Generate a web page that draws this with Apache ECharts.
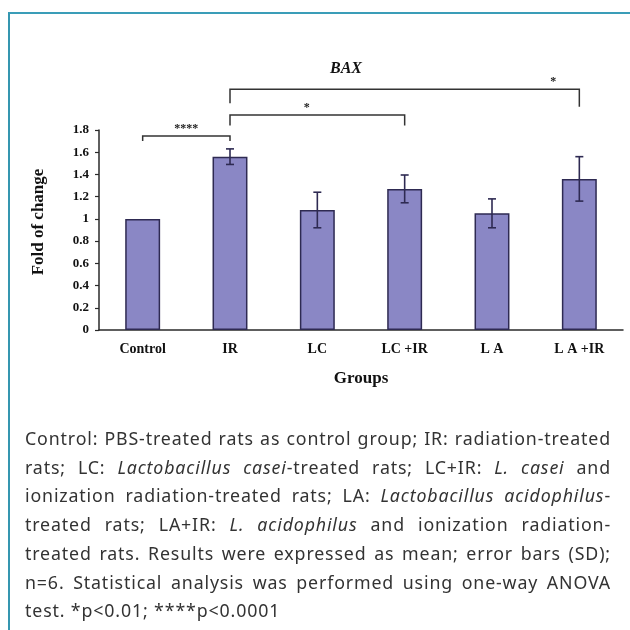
<!DOCTYPE html>
<html lang="en">
<head>
<meta charset="UTF-8">
<title>BAX</title>
<script src="https://cdn.jsdelivr.net/npm/echarts@6/dist/echarts.min.js"></script>
<style>
html, body { margin: 0; padding: 0; background: #fff; }
#wrap { position: relative; width: 630px; height: 630px; overflow: hidden; }
#frame {
    position: absolute; left: 8px; top: 12px; width: 700px; height: 700px;
    border-left: 2px solid #3596b0; border-top: 2px solid #3a9db8;
}
#chart { position: absolute; left: 0; top: 0; width: 630px; height: 630px; }
#caption {
    position: absolute; left: 25px; top: 424px; width: 586px;
    font-family: "Noto Sans", sans-serif; font-size: 17.8px; line-height: 28.7px;
    letter-spacing: 0.85px; color: #333; white-space: nowrap;
}
#caption div { text-align: justify; text-align-last: justify; }
#caption div.last { text-align-last: left; }
</style>
</head>
<body>
<div id="wrap">
    <div id="frame"></div>
    <div id="chart"></div>
    <div id="caption">
        <div>Control: PBS-treated rats as control group; IR: radiation-treated</div>
        <div>rats; LC: <i>Lactobacillus casei</i>-treated rats; LC+IR: <i>L. casei</i> and</div>
        <div>ionization radiation-treated rats; LA: <i>Lactobacillus acidophilus</i>-</div>
        <div>treated rats; LA+IR: <i>L. acidophilus</i> and ionization radiation-</div>
        <div>treated rats. Results were expressed as mean; error bars (SD);</div>
        <div>n=6. Statistical analysis was performed using one-way ANOVA</div>
        <div class="last">test. *p&lt;0.01; ****p&lt;0.0001</div>
    </div>
</div>
<script>
var groups = ['Control', 'IR', 'LC', 'LC +IR', 'L A', 'L A +IR'];
var means = [1.00, 1.56, 1.08, 1.27, 1.05, 1.36];
var sds = [0, 0.07, 0.16, 0.125, 0.13, 0.20];

// significance brackets: from, to, line level, left end, right end
var brackets = [
    [0, 1, 1.745, 1.70, 1.70],
    [1, 3, 1.935, 1.84, 1.84],
    [1, 5, 2.167, 2.04, 2.01]
];
var bracketLabels = ['****', '*', '*'];
var labelPos = [0.5, 0.44, 0.925];

var serif = '"Liberation Serif", "Times New Roman", serif';
var ink = '#2a2a2a';
var barEdge = '#2e2a52';

var chart = echarts.init(document.getElementById('chart'));

var option = {
    animation: false,
    title: {
        text: 'BAX',
        left: 341,
        top: 56,
        textAlign: 'center',
        textStyle: { fontFamily: serif, fontStyle: 'italic', fontWeight: 'bold', fontSize: 16, color: '#111' }
    },
    grid: { left: 99, right: 7, top: 130, bottom: 300 },
    xAxis: {
        type: 'category',
        data: groups,
        name: 'Groups',
        nameLocation: 'middle',
        nameGap: 40,
        nameTextStyle: { fontFamily: serif, fontWeight: 'bold', fontSize: 17, color: '#111' },
        axisLine: { lineStyle: { color: ink, width: 1.5 } },
        axisTick: { length: 5, lineStyle: { color: ink, width: 1.2 } },
        axisLabel: { fontFamily: serif, fontWeight: 'bold', fontSize: 14, color: '#111', margin: 12 }
    },
    yAxis: {
        type: 'value',
        min: 0,
        max: 1.8,
        interval: 0.2,
        name: 'Fold of change',
        nameLocation: 'middle',
        nameGap: 52,
        nameTextStyle: { fontFamily: serif, fontWeight: 'bold', fontSize: 17, color: '#111', padding: [0, 0, 0, 16] },
        splitLine: { show: false },
        axisLine: { show: true, lineStyle: { color: ink, width: 1.5 } },
        axisTick: { show: true, length: 4, lineStyle: { color: ink, width: 1.2 } },
        axisLabel: { fontFamily: serif, fontWeight: 'bold', fontSize: 13, color: '#111', margin: 10 }
    },
    series: [
        {
            type: 'bar',
            data: means,
            barWidth: '40%',
            itemStyle: { color: '#8a87c5', borderColor: barEdge, borderWidth: 1.5 }
        },
        {
            type: 'custom',
            clip: false,
            z: 5,
            data: means.map(function (m, i) { return [i, m, sds[i]]; }),
            encode: { x: 0, y: 1 },
            renderItem: function (params, api) {
                var i = api.value(0), m = api.value(1), s = api.value(2);
                if (!s) return null;
                var hi = api.coord([i, m + s]);
                var lo = api.coord([i, m - s]);
                var w = 4;
                var st = { stroke: barEdge, lineWidth: 1.6 };
                return {
                    type: 'group',
                    children: [
                        { type: 'line', shape: { x1: hi[0], y1: hi[1], x2: lo[0], y2: lo[1] }, style: st },
                        { type: 'line', shape: { x1: hi[0] - w, y1: hi[1], x2: hi[0] + w, y2: hi[1] }, style: st },
                        { type: 'line', shape: { x1: lo[0] - w, y1: lo[1], x2: lo[0] + w, y2: lo[1] }, style: st }
                    ]
                };
            }
        },
        {
            type: 'custom',
            clip: false,
            z: 5,
            data: brackets,
            renderItem: function (params, api) {
                var b = brackets[params.dataIndex];
                var a0 = api.coord([b[0], b[3]]);
                var a1 = api.coord([b[0], b[2]]);
                var b1 = api.coord([b[1], b[2]]);
                var b0 = api.coord([b[1], b[4]]);
                var t = labelPos[params.dataIndex];
                var lx = a1[0] + (b1[0] - a1[0]) * t;
                return {
                    type: 'group',
                    children: [
                        {
                            type: 'polyline',
                            shape: { points: [a0, a1, b1, b0] },
                            style: { stroke: '#333', lineWidth: 1.5, fill: null }
                        },
                        {
                            type: 'text',
                            style: {
                                x: lx, y: a1[1] - 1,
                                text: bracketLabels[params.dataIndex],
                                textAlign: 'center', textVerticalAlign: 'bottom',
                                font: 'bold 12px ' + serif, fill: '#222'
                            }
                        }
                    ]
                };
            }
        }
    ]
};

chart.setOption(option);
</script>
</body>
</html>
